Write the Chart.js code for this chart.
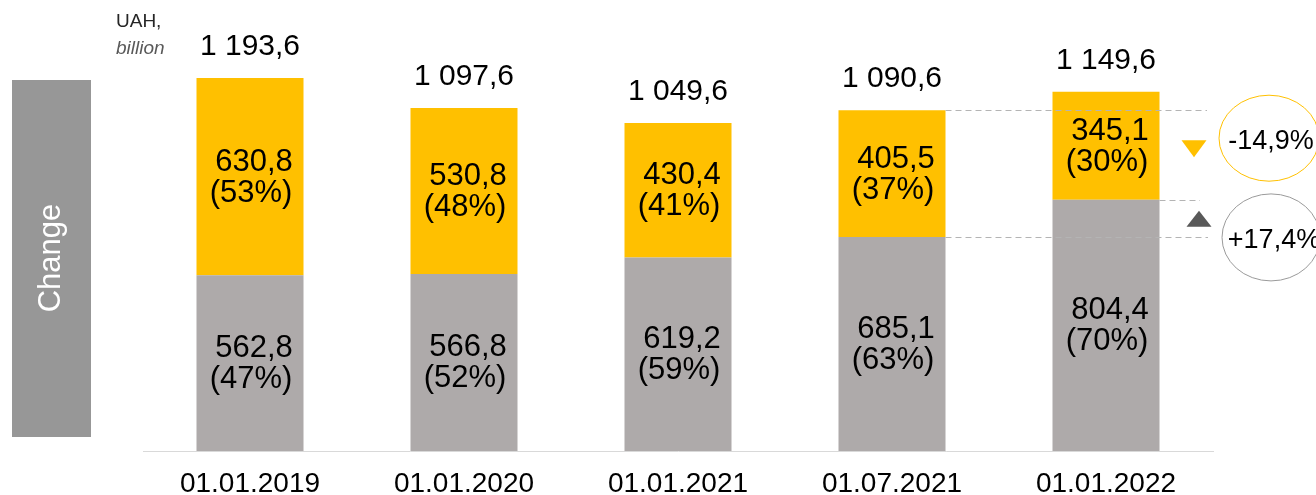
<!DOCTYPE html>
<html>
<head>
<meta charset="utf-8">
<script src="https://cdn.jsdelivr.net/npm/chart.js@4.4.1/dist/chart.umd.min.js"></script>
<style>
  html, body { margin: 0; padding: 0; background: #fff; }
  canvas { display: block; }
</style>
</head>
<body>
<canvas id="chart" width="1316" height="495"></canvas>
<script>
const dates = ["01.01.2019", "01.01.2020", "01.01.2021", "01.07.2021", "01.01.2022"];
const grayValues = [562.8, 566.8, 619.2, 685.1, 804.4];
const grayShares = [47, 52, 59, 63, 70];
const yellowValues = [630.8, 530.8, 430.4, 405.5, 345.1];
const yellowShares = [53, 48, 41, 37, 30];
const totals = [1193.6, 1097.6, 1049.6, 1090.6, 1149.6];
const yellowChange = "-14,9%";
const grayChange = "+17,4%";

const FONT = "'Liberation Sans', Arial, sans-serif";
const YELLOW = "#FFC000";
const GRAY = "#AEAAAA";

// "1193.6" -> "1 193,6"
function fmt(v) {
  let [i, d] = v.toFixed(1).split(".");
  i = i.replace(/\B(?=(\d{3})+(?!\d))/g, " ");
  return i + "," + d;
}

const labelsPlugin = {
  id: "labels",
  beforeDraw(chart) {
    let ctx = chart.ctx;
    ctx.save();
    // side box
    ctx.fillStyle = "#979797";
    ctx.fillRect(12, 80, 79, 357);
    ctx.translate(51, 258);
    ctx.rotate(-Math.PI / 2);
    ctx.fillStyle = "#fff";
    ctx.font = "31px " + FONT;
    ctx.textAlign = "center";
    ctx.textBaseline = "middle";
    ctx.fillText("Change", 0, 0);
    ctx.restore();

    ctx.save();
    ctx.textAlign = "left";
    ctx.textBaseline = "alphabetic";
    ctx.fillStyle = "#262626";
    ctx.font = "19px " + FONT;
    ctx.fillText("UAH,", 116, 27);
    ctx.fillStyle = "#595959";
    ctx.font = "italic 19px " + FONT;
    ctx.fillText("billion", 116, 54);
    ctx.restore();
  },
  afterDatasetsDraw(chart) {
    let ctx = chart.ctx;
    let area = chart.chartArea;
    let gray = chart.getDatasetMeta(0).data;
    let yellow = chart.getDatasetMeta(1).data;

    ctx.save();
    ctx.fillStyle = "#000";
    ctx.textAlign = "center";
    ctx.textBaseline = "middle";

    ctx.font = "31px " + FONT;
    const inner = (bar, value, share) => {
      let cy = (bar.y + bar.base) / 2 + 1;
      ctx.fillText(fmt(value), bar.x + 4, cy - 15.5);
      ctx.fillText("(" + share + "%)", bar.x + 1, cy + 15.5);
    };
    gray.forEach((bar, i) => inner(bar, grayValues[i], grayShares[i]));
    yellow.forEach((bar, i) => inner(bar, yellowValues[i], yellowShares[i]));

    ctx.font = "30px " + FONT;
    yellow.forEach((bar, i) => ctx.fillText(fmt(totals[i]), bar.x, bar.y - 31));

    // comparison lines 01.07.2021 -> 01.01.2022
    let b4y = yellow[3], b4g = gray[3], b5g = gray[4];
    ctx.strokeStyle = "#B4B4B4";
    ctx.lineWidth = 1;
    ctx.setLineDash([6, 4]);
    const dash = (x1, x2, y) => {
      ctx.beginPath();
      ctx.moveTo(x1, Math.round(y) + 0.5);
      ctx.lineTo(x2, Math.round(y) + 0.5);
      ctx.stroke();
    };
    dash(b4y.x + b4y.width / 2, area.right - 6, b4y.y);
    dash(b5g.x + b5g.width / 2, area.right - 13, b5g.y);
    dash(b4g.x + b4g.width / 2, area.right - 5, b4g.y);
    ctx.setLineDash([]);

    // arrows
    let tx = area.right - 19, ty = b4y.y + 30;
    ctx.fillStyle = YELLOW;
    ctx.beginPath();
    ctx.moveTo(tx - 12.5, ty);
    ctx.lineTo(tx + 12.5, ty);
    ctx.lineTo(tx, ty + 17);
    ctx.closePath();
    ctx.fill();

    tx = area.right - 14; ty = b5g.y + 11;
    ctx.fillStyle = "#595959";
    ctx.beginPath();
    ctx.moveTo(tx, ty);
    ctx.lineTo(tx + 12.5, ty + 16);
    ctx.lineTo(tx - 12.5, ty + 16);
    ctx.closePath();
    ctx.fill();

    // change bubbles
    ctx.font = "27px " + FONT;
    let ex = area.right + 56, ey = b4y.y + 28;
    ctx.fillStyle = "#fff";
    ctx.strokeStyle = YELLOW;
    ctx.beginPath();
    ctx.ellipse(ex, ey, 50, 43, 0, 0, Math.PI * 2);
    ctx.fill();
    ctx.stroke();
    ctx.fillStyle = "#000";
    ctx.fillText(yellowChange, ex + 2, ey + 3);

    ex = area.right + 58; ey = b4g.y + 0.5;
    ctx.fillStyle = "#fff";
    ctx.strokeStyle = "#9A9A9A";
    ctx.beginPath();
    ctx.ellipse(ex, ey, 49, 43.5, 0, 0, Math.PI * 2);
    ctx.fill();
    ctx.stroke();
    ctx.fillStyle = "#000";
    ctx.fillText(grayChange, ex + 3, ey + 3);
    ctx.restore();
  }
};

new Chart(document.getElementById("chart").getContext("2d"), {
  type: "bar",
  data: {
    labels: dates,
    datasets: [
      { label: "gray", data: grayValues, backgroundColor: GRAY },
      { label: "yellow", data: yellowValues, backgroundColor: YELLOW },
    ]
  },
  options: {
    responsive: false,
    animation: false,
    events: [],
    layout: { padding: { left: 143, right: 103, top: 76, bottom: 0 } },
    datasets: { bar: { categoryPercentage: 1, barPercentage: 0.5, borderWidth: 0 } },
    plugins: { legend: { display: false }, tooltip: { enabled: false } },
    scales: {
      x: {
        stacked: true,
        grid: { display: false, drawTicks: false },
        border: { color: "#D9D9D9", width: 1 },
        ticks: { color: "#000", padding: 19, font: { family: FONT, size: 28, lineHeight: 1 } },
        afterFit: (axis) => { axis.height = 44; }
      },
      y: {
        stacked: true,
        display: false,
        min: 0,
        max: 1200
      }
    }
  },
  plugins: [labelsPlugin]
});
</script>
</body>
</html>
